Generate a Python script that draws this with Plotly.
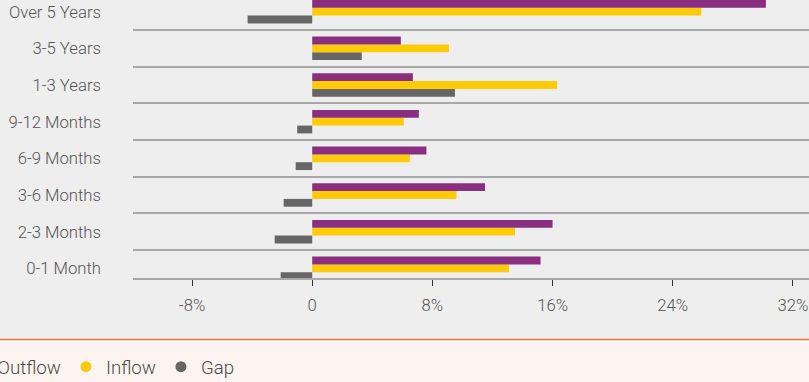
import plotly.graph_objects as go

# Liquidity buckets, shortest maturity first (drawn bottom to top)
buckets = ["0-1 Month", "2-3 Months", "3-6 Months", "6-9 Months",
           "9-12 Months", "1-3 Years", "3-5 Years", "Over 5 Years"]

# Shares in percent
outflow = [15.2, 16.0, 11.5, 7.6, 7.1, 6.7, 5.9, 30.2]
inflow = [13.1, 13.5, 9.6, 6.5, 6.1, 16.3, 9.1, 25.9]
gap = [-2.1, -2.5, -1.9, -1.1, -1.0, 9.5, 3.3, -4.3]

x_ticks = [-8, 0, 8, 16, 24, 32]
x_tick_text = ["-8%", "0", "8%", "16%", "24%", "32%"]

PURPLE = "#8a2f7f"
YELLOW = "#ffca08"
GREY = "#666666"
BG = "#eeeeee"
FONT = "Roboto"
TEXT = "#555555"
TICK_SIZE = 16.7
LEGEND_SIZE = 18.7

W, H = 809, 382
M_L, M_R, M_T, M_B = 133, 0, 0, 104

fig = go.Figure()

# Bars are added bottom-up within each group so Outflow sits on top
for name, vals, col in [("Gap", gap, GREY), ("Inflow", inflow, YELLOW),
                        ("Outflow", outflow, PURPLE)]:
    fig.add_trace(go.Bar(y=buckets, x=vals, orientation="h", name=name,
                         marker=dict(color=col, line=dict(width=0)),
                         showlegend=False, hoverinfo="skip"))

# Round legend keys
for name, col in [("Outflow", PURPLE), ("Inflow", YELLOW), ("Gap", GREY)]:
    fig.add_trace(go.Scatter(x=[None], y=[None], mode="markers", name=name,
                             marker=dict(color=col, size=11, symbol="circle")))

plot_h = H - M_T - M_B
band_top = (plot_h - (339.5 - M_T)) / plot_h

fig.update_layout(
    width=W, height=H,
    margin=dict(l=M_L, r=M_R, t=M_T, b=M_B, pad=0, autoexpand=False),
    paper_bgcolor=BG, plot_bgcolor=BG,
    font=dict(family=FONT, size=TICK_SIZE, color=TEXT, weight=300),
    barmode="group", bargap=0.36, bargroupgap=0,
    showlegend=True,
    legend=dict(orientation="h", x=-0.2600, xanchor="left",
                yref="container", y=1 - 367 / H, yanchor="middle",
                font=dict(family=FONT, size=LEGEND_SIZE, color="#4a4a4a",
                          weight=300),
                bgcolor="rgba(0,0,0,0)", itemsizing="trace",
                traceorder="normal"),
    xaxis=dict(range=[-11.93, 33.07], tickvals=x_ticks, ticktext=x_tick_text,
               showgrid=False, zeroline=False,
               showline=True, linecolor="#a8a8a8", linewidth=1.5,
               ticks="outside", ticklen=6, tickwidth=1, tickcolor="#333333",
               ticklabelstandoff=5,
               tickfont=dict(family=FONT, size=TICK_SIZE, color=TEXT,
                             weight=300),
               fixedrange=True),
    yaxis=dict(type="category", categoryorder="array", categoryarray=buckets,
               range=[-0.264, 7.318], tickson="boundaries",
               showgrid=True, gridcolor="#a8a8a8", gridwidth=1.5,
               zeroline=False, showline=False, ticks="",
               ticklabelstandoff=31,
               tickfont=dict(family=FONT, size=TICK_SIZE, color=TEXT,
                             weight=300),
               fixedrange=True),
    shapes=[
        dict(type="rect", xref="paper", yref="paper",
             x0=-0.3, x1=1.1, y0=-0.5, y1=band_top,
             fillcolor="#fdf4f1", line=dict(width=0), layer="below"),
        dict(type="line", xref="paper", yref="paper",
             x0=-0.3, x1=1.1, y0=band_top, y1=band_top,
             line=dict(color="#e8743f", width=1.5), layer="above"),
    ],
)

fig.write_html("out.html")
